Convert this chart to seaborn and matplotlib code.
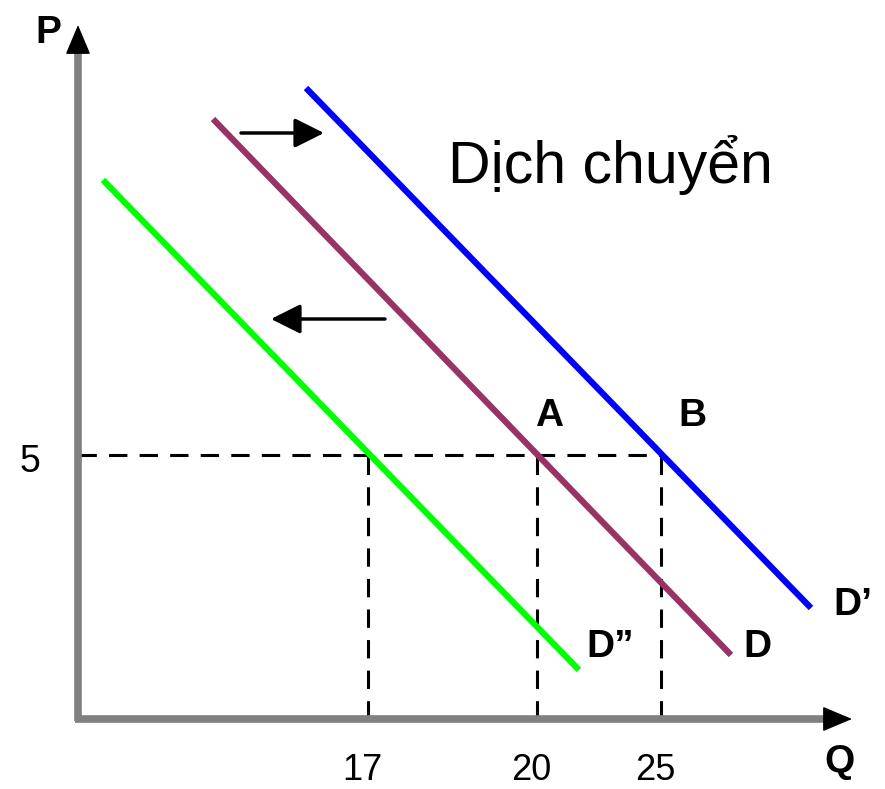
import matplotlib
matplotlib.use("Agg")
import matplotlib.pyplot as plt
import seaborn as sns
import pandas as pd

# ---- data (schematic units) ----
curve_names = ["D’", "D", "D”"]
curve_q = [[22.8, 73.3], [13.5, 65.3], [2.5, 50.1]]
curve_p = [[63.1, 11.1], [60.0, 6.4], [53.9, 4.9]]
curve_colors = ["#0000FF", "#993366", "#00FF00"]

price_level = 26.4          # position of P = 5
price_label = "5"
q_positions = [29.0, 45.9, 58.3]   # positions of Q = 17, 20, 25
q_labels = ["17", "20", "25"]

point_names = ["A", "B"]
point_x = [45.7, 60.0]
point_y = [29.3, 29.3]

curve_label_x = [75.5, 66.5, 50.8]
curve_label_y = [10.4, 6.2, 6.2]

shift_right = ((16.3, 58.6), (24.6, 58.6))
shift_left = ((30.7, 40.0), (19.3, 40.0))
title_text = "Dịch chuyển"

# ---- figure ----
sns.set_theme(style="white")
plt.rcParams["font.family"] = ["Liberation Sans", "DejaVu Sans"]
plt.rcParams["text.color"] = "black"

fig = plt.figure(figsize=(8.85, 7.89), dpi=100)
ax = fig.add_axes([0, 0, 1, 1])
ax.set_xlim(-7.8, 80.7)
ax.set_ylim(-7.0, 71.9)
ax.axis("off")

rows = []
for name, qs, ps in zip(curve_names, curve_q, curve_p):
    for q, p in zip(qs, ps):
        rows.append({"curve": name, "Q": q, "P": p})
df = pd.DataFrame(rows)
sns.lineplot(data=df, x="Q", y="P", hue="curve",
             palette=dict(zip(curve_names, curve_colors)),
             linewidth=4.5, legend=False, ax=ax, solid_capstyle="butt", zorder=3)

# dashed guide lines
dash_kw = dict(color="black", linewidth=2.2, dashes=(6, 4), zorder=2)
ax.plot([0, q_positions[-1]], [price_level, price_level], **dash_kw)
for xq in q_positions:
    ax.plot([xq, xq], [0, price_level], **dash_kw)

# axes with arrowheads
axis_color = "#808080"
ax.plot([0, 0], [-0.2, 66.6], color=axis_color, linewidth=5.5, solid_capstyle="butt", zorder=4)
ax.plot([-0.3, 75.3], [0, 0], color=axis_color, linewidth=5.5, solid_capstyle="butt", zorder=4)
head = dict(arrowstyle="-|>,head_length=0.95,head_width=0.4", color="black",
            lw=1, shrinkA=0, shrinkB=0, mutation_scale=20)
ax.annotate("", xy=(0, 69.4), xytext=(0, 66.6), arrowprops=head, zorder=5)
ax.annotate("", xy=(77.4, 0), xytext=(75.2, 0), arrowprops=head, zorder=5)

# shift arrows
arr = dict(arrowstyle="-|>,head_length=0.9,head_width=0.45", color="black",
           lw=2.5, shrinkA=0, shrinkB=0, mutation_scale=20)
ax.annotate("", xy=shift_right[1], xytext=shift_right[0], arrowprops=arr)
ax.annotate("", xy=shift_left[1], xytext=shift_left[0], arrowprops=arr)

# texts
ax.text(37.0, 53.6, title_text, fontsize=42.5, ha="left", va="baseline", color="black")
ax.text(-3.0, 67.6, "P", fontsize=28, fontweight="bold", ha="center", va="baseline", color="black")
ax.text(76.1, -5.3, "Q", fontsize=28, fontweight="bold", ha="center", va="baseline", color="black")
ax.text(-4.8, 24.7, price_label, fontsize=27, ha="center", va="baseline", color="black")
tick_offset = -0.6
for xq, lab in zip(q_positions, q_labels):
    ax.text(xq + tick_offset, -6.85, lab, fontsize=26, ha="center", va="bottom", color="black")
for name, x, y in zip(point_names, point_x, point_y):
    ax.text(x, y, name, fontsize=28, fontweight="bold", ha="left", va="baseline", color="black")
for name, x, y in zip(curve_names, curve_label_x, curve_label_y):
    ax.text(x, y, name, fontsize=28, fontweight="bold", ha="left", va="baseline", color="black")

fig.savefig("out.png", dpi=100)
